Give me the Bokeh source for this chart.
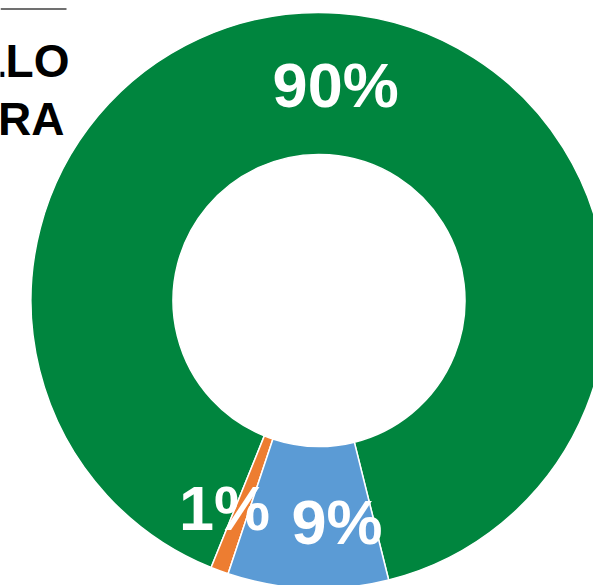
import numpy as np
from bokeh.plotting import figure
from bokeh.models import Range1d, ColumnDataSource
from bokeh.core.properties import value
from bokeh.embed import file_html
from bokeh.resources import INLINE

# ---- data ----
shares = [90, 1, 9]
labels = ["90%", "1%", "9%"]
colors = ["#00853E", "#ED7D31", "#5B9BD5"]
title_lines = ["LLO", "RA"]

# ---- layout / style ----
W, H = 593, 585
CX, CY = 318.5, -300.0          # donut centre (screen px, y downward -> negative)
R_OUT, R_IN = 288, 146
START_DEG = -76.0
label_dx = [1.5, -19.6, 26.3]
label_dy = [1.0, 4.0, 4.2]
title_x = [69, 64]
title_y = [-60, -118.5]

p = figure(width=W, height=H,
           x_range=Range1d(0, W), y_range=Range1d(-H, 0),
           output_backend="svg", toolbar_location=None, min_border=0)
p.axis.visible = False
p.grid.visible = False
p.outline_line_color = None
p.background_fill_color = "white"
p.border_fill_color = "white"

frac = np.array(shares, dtype=float) / sum(shares)
start = np.deg2rad(START_DEG)
ends = start + np.cumsum(frac) * 2 * np.pi
starts = ends - frac * 2 * np.pi
mids = (starts + ends) / 2
r_mid = (R_OUT + R_IN) / 2

src = ColumnDataSource(dict(
    start=starts, end=ends, color=colors, label=labels,
    lx=CX + r_mid * np.cos(mids), ly=CY + r_mid * np.sin(mids),
    dx=label_dx, dy=label_dy,
))

p.annular_wedge(x=CX, y=CY, inner_radius=R_IN, outer_radius=R_OUT,
                start_angle="start", end_angle="end", fill_color="color",
                line_color="white", line_width=1.5, source=src)

p.text(x="lx", y="ly", text="label", x_offset="dx", y_offset="dy",
       text_align="center", text_baseline="middle",
       text_font=value("Liberation Sans"), text_font_style="bold",
       text_font_size="63px", text_color="white", source=src)

# title fragment and rule at the top-left
p.segment(x0=0, y0=-8.5, x1=66, y1=-8.5, line_color="#404040", line_width=1.5)
p.text(x=title_x, y=title_y, text=title_lines,
       text_align="right", text_baseline="middle",
       text_font=value("Liberation Sans"), text_font_style="bold",
       text_font_size="46px", text_color="black")

open("out.html", "w").write(file_html(p, INLINE))
